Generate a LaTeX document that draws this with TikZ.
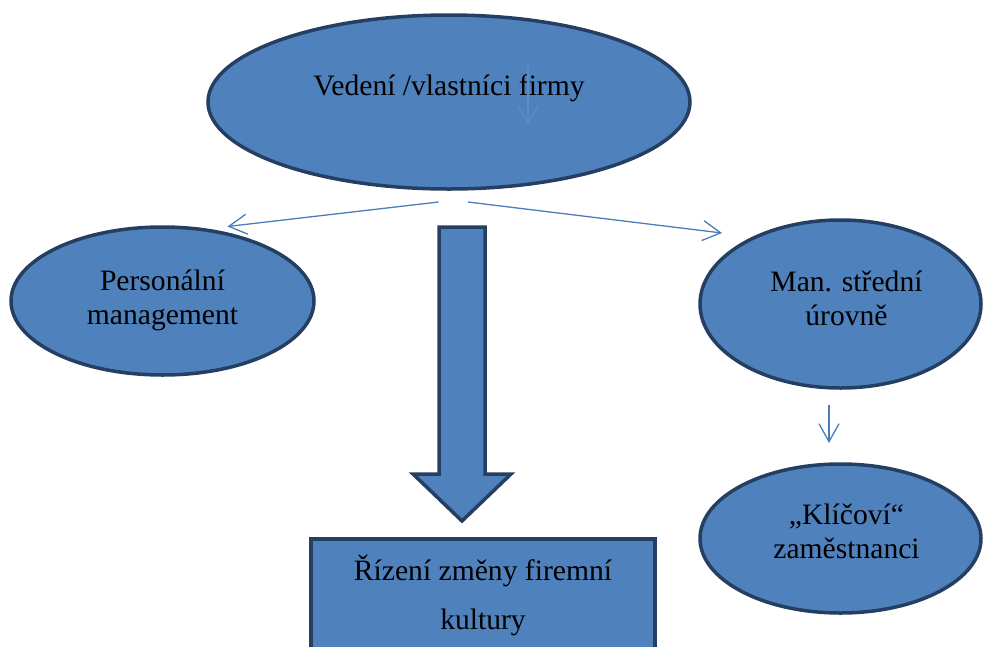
\documentclass[tikz,border=0pt]{standalone}
\usepackage{fontspec}
\setmainfont{Liberation Serif}
\usetikzlibrary{arrows.meta,shapes.geometric}
\definecolor{fillblue}{HTML}{4F81BD}
\definecolor{edgeblue}{HTML}{253F62}
\definecolor{linkblue}{HTML}{4A7EBB}
\definecolor{faintblue}{HTML}{5A8CC8}
\begin{document}
\begin{tikzpicture}[x=1pt,y=-1pt,
  oval/.style={ellipse, draw=edgeblue, fill=fillblue, line width=3.5pt, inner sep=0pt, outer sep=0pt},
  boxshape/.style={rectangle, draw=edgeblue, fill=fillblue, line width=3.5pt, inner sep=0pt, outer sep=0pt},
  txt/.style={font=\fontsize{29.6}{34}\selectfont, align=center, text=black, inner sep=0pt, outer sep=0pt},
  boxtxt/.style={font=\fontsize{29.6}{49}\selectfont, align=center, text=black, inner sep=0pt, outer sep=0pt},
  link/.style={draw=linkblue, line width=1.3pt, -{Straight Barb[length=18pt,width=20pt,line width=1.3pt]}},
  blockarrow/.style={draw=edgeblue, fill=fillblue, line width=3.5pt, line join=miter}]
\useasboundingbox (0,0) rectangle (983,646);
\begin{scope}
\clip (0,0) rectangle (983,646);
% ellipses
\node[oval, minimum width=482pt, minimum height=174pt,
  label={[txt, yshift=14pt]center:Vedení /vlastníci firmy}] (top) at (449,102) {};
\node[oval, minimum width=303pt, minimum height=148pt,
  label={[txt, yshift=1pt]center:Personální\\management}] (pers) at (162.5,301) {};
\node[oval, minimum width=281pt, minimum height=168pt,
  label={[txt, xshift=6pt, yshift=6pt]center:Man. střední\\úrovně}] (mid) at (840.5,304) {};
\node[oval, minimum width=281pt, minimum height=149pt,
  label={[txt, xshift=6pt, yshift=7pt]center:„Klíčoví“\\zaměstnanci}] (key) at (840.5,538.5) {};
% box
\node[boxshape, minimum width=344pt, minimum height=200pt, anchor=north] (box) at (483,539) {};
\node[boxtxt] (boxtext) at (483,595) {Řízení změny firemní\\kultury};
% block arrow
\draw[blockarrow] (439,227) -- (485,227) -- (485,474) -- (511,474) -- (462,521) -- (413,474) -- (439,474) -- cycle;
% thin connectors
\coordinate (s1) at (438.5,202);
\coordinate (e1) at (227.5,226.5);
\coordinate (s2) at (468,202);
\coordinate (e2) at (722,233);
\coordinate (s3) at (829,405);
\coordinate (e3) at (829,443);
\coordinate (s4) at (528,65);
\coordinate (e4) at (528,125);
\draw[link] (s1) -- (e1);
\draw[link] (s2) -- (e2);
\draw[link] (s3) -- (e3);
\draw[link, draw=faintblue] (s4) -- (e4);
\end{scope}
\end{tikzpicture}
\end{document}
